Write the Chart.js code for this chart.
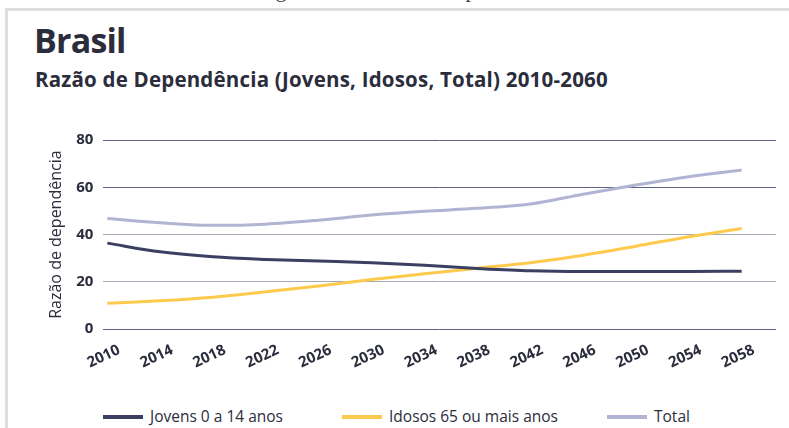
<!DOCTYPE html>
<html>
<head>
<meta charset="utf-8">
<script src="https://cdn.jsdelivr.net/npm/chart.js@4"></script>
<style>
  body { margin: 0; width: 789px; height: 428px; overflow: hidden; background: #fff; font-family: "Open Sans", sans-serif; }
  #cap { position: absolute; top: -23px; left: 0; width: 812px; line-height: 22px; text-align: center; font: 22px "Liberation Serif", serif; color: #444; }
  #frame { position: absolute; left: 5px; top: 8px; width: 800px; height: 440px; border-left: 3px solid #dedede; border-top: 3px solid #dedede; }
  h1 { position: absolute; left: 34px; top: 17px; margin: 0; font: 700 34px "Open Sans", sans-serif; color: #2b2d3c; letter-spacing: -0.8px; }
  h2 { position: absolute; left: 35px; top: 65px; margin: 0; font: 700 20.5px "Open Sans", sans-serif; color: #2b2d3c; letter-spacing: 0.2px; }
  #wrap { position: absolute; left: 0; top: 90px; width: 789px; height: 286px; }
  #legend { position: absolute; top: 405px; left: 0; width: 789px; height: 22px; font: 15.5px "Open Sans", sans-serif; color: #2b2d3c; }
  #legend span { position: absolute; top: 0; white-space: nowrap; }
  #legend i { position: absolute; top: 10px; height: 4px; width: 40px; }
</style>
</head>
<body>
<div id="cap">Figura 3 – Razão de Dependência</div>
<div id="frame"></div>
<h1>Brasil</h1>
<h2>Razão de Dependência (Jovens, Idosos, Total) 2010-2060</h2>
<div id="wrap"><canvas id="chart"></canvas></div>
<div id="legend"></div>
<script>
const anos = [2010, 2014, 2018, 2022, 2026, 2030, 2034, 2038, 2042, 2046, 2050, 2054, 2058];
const jovens = [36.4, 32.7, 30.6, 29.5, 28.8, 28.1, 27.0, 25.7, 24.7, 24.4, 24.4, 24.4, 24.5];
const idosos = [11.0, 12.0, 13.5, 15.8, 18.3, 21.0, 23.4, 25.8, 28.1, 31.3, 35.1, 39.1, 42.6];
const total = [46.8, 45.0, 43.9, 44.4, 46.1, 48.3, 49.9, 51.1, 52.9, 57.1, 61.0, 64.5, 67.3];
const yTicks = [0, 20, 40, 60, 80];
const series = ['Jovens 0 a 14 anos', 'Idosos 65 ou mais anos', 'Total'];
const cores = ['#3b3f62', '#fdca4d', '#b1b4d3'];

function pontos(vals) {
  return vals.map((v, i) => ({ x: anos[i], y: v }));
}

const ctx = document.getElementById('chart').getContext('2d');
const chart = new Chart(ctx, {
  type: 'line',
  data: {
    datasets: [jovens, idosos, total].map((vals, i) => ({
      label: series[i], data: pontos(vals), borderColor: cores[i], backgroundColor: cores[i]
    }))
  },
  options: {
    responsive: true,
    maintainAspectRatio: false,
    animation: false,
    layout: { padding: { left: 47, right: 13, top: 50, bottom: 0 } },
    elements: {
      line: { borderWidth: 3, tension: 0.4, cubicInterpolationMode: 'monotone' },
      point: { radius: 0 }
    },
    scales: {
      x: {
        type: 'linear',
        min: 2009.7,
        max: 2060.6,
        afterBuildTicks: axis => { axis.ticks = anos.map(a => ({ value: a })); },
        grid: { display: false },
        border: { display: false },
        ticks: {
          minRotation: 25, maxRotation: 25, padding: 4, labelOffset: 12,
          color: '#2b2d3c',
          font: { family: 'Open Sans', weight: 'bold', size: 15 },
          callback: v => String(v)
        }
      },
      y: {
        min: 0,
        max: 80,
        afterBuildTicks: axis => { axis.ticks = yTicks.map(v => ({ value: v })); },
        border: { display: false },
        grid: {
          drawTicks: false,
          lineWidth: 1,
          color: c => (c.tick && (c.tick.value === 20 || c.tick.value === 40)) ? '#a6a9b6' : '#5f6388'
        },
        ticks: {
          padding: 10,
          color: '#2b2d3c',
          font: { family: 'Open Sans', weight: 'bold', size: 15 }
        },
        title: {
          display: true,
          text: 'Razão de dependência',
          color: '#2b2d3c',
          font: { family: 'Open Sans', size: 16 },
          padding: { top: 0, bottom: 0 }
        }
      }
    },
    plugins: {
      tooltip: { enabled: false },
      legend: { display: false }
    }
  }
});

// legenda em HTML, posicionada como na figura
const legX = [103, 342, 607];
const leg = document.getElementById('legend');
series.forEach((s, i) => {
  const line = document.createElement('i');
  line.style.left = legX[i] + 'px';
  line.style.background = cores[i];
  leg.appendChild(line);
  const t = document.createElement('span');
  t.style.left = (legX[i] + 47) + 'px';
  t.textContent = s;
  leg.appendChild(t);
});
</script>
</body>
</html>
